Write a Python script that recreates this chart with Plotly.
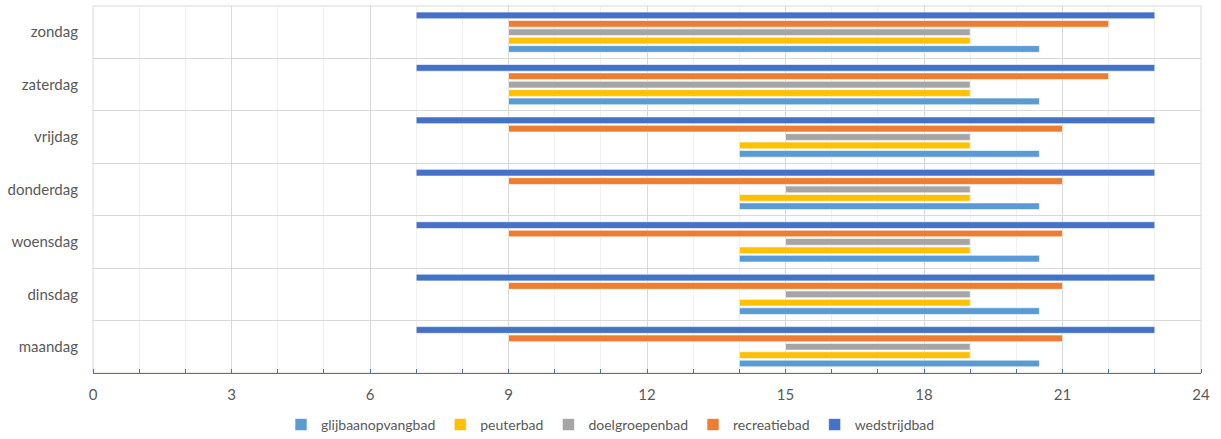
import plotly.graph_objects as go

# Openingstijden per bad, per dag (uren van de dag)
dagen = ["maandag", "dinsdag", "woensdag", "donderdag", "vrijdag", "zaterdag", "zondag"]

glijbaan_start = [14, 14, 14, 14, 14, 9, 9]
glijbaan_eind = [20.5, 20.5, 20.5, 20.5, 20.5, 20.5, 20.5]

peuter_start = [14, 14, 14, 14, 14, 9, 9]
peuter_eind = [19, 19, 19, 19, 19, 19, 19]

doelgroep_start = [15, 15, 15, 15, 15, 9, 9]
doelgroep_eind = [19, 19, 19, 19, 19, 19, 19]

recreatie_start = [9, 9, 9, 9, 9, 9, 9]
recreatie_eind = [21, 21, 21, 21, 21, 22, 22]

wedstrijd_start = [7, 7, 7, 7, 7, 7, 7]
wedstrijd_eind = [23, 23, 23, 23, 23, 23, 23]

x_ticks = [0, 3, 6, 9, 12, 15, 18, 21, 24]

series = [
    ("glijbaanopvangbad", glijbaan_start, glijbaan_eind, "#5B9BD5"),
    ("peuterbad", peuter_start, peuter_eind, "#FFC000"),
    ("doelgroepenbad", doelgroep_start, doelgroep_eind, "#A5A5A5"),
    ("recreatiebad", recreatie_start, recreatie_eind, "#ED7D31"),
    ("wedstrijdbad", wedstrijd_start, wedstrijd_eind, "#4472C4"),
]

fig = go.Figure()
for naam, start, eind, kleur in series:
    fig.add_trace(go.Bar(
        y=dagen,
        x=[e - s for s, e in zip(start, eind)],
        base=start,
        orientation="h",
        name=naam,
        marker=dict(color=kleur, line=dict(color="rgba(255,255,255,0.6)", width=1)),
    ))

font = dict(family="Lato, Open Sans, sans-serif", size=15, color="#595959")

fig.update_layout(
    width=1221,
    height=439,
    margin=dict(l=93, r=20, t=6, b=65),
    paper_bgcolor="white",
    plot_bgcolor="white",
    barmode="group",
    bargap=0.2,
    bargroupgap=0.2,
    font=font,
    showlegend=True,
    legend=dict(
        orientation="h",
        x=0.5, xanchor="center", xref="container",
        y=0.032, yanchor="middle", yref="container",
        font=dict(family="Lato, Open Sans, sans-serif", size=14, color="#595959"),
        itemwidth=30,
        tracegroupgap=0,
        traceorder="normal",
    ),
    xaxis=dict(
        range=[0, 24],
        tickvals=x_ticks,
        ticks="",
        showgrid=True,
        gridcolor="#D9D9D9",
        gridwidth=1,
        showline=True,
        linecolor="#4472C4",
        linewidth=1,
        zeroline=False,
        tickfont=font,
        ticklabelstandoff=8,
        minor=dict(
            dtick=1,
            tick0=0,
            showgrid=True,
            gridcolor="#F0F0F0",
            gridwidth=1,
            ticks="inside",
            ticklen=4,
            tickcolor="#4472C4",
        ),
    ),
    yaxis=dict(
        categoryorder="array",
        categoryarray=dagen,
        tickson="boundaries",
        ticks="",
        showgrid=True,
        gridcolor="#D9D9D9",
        gridwidth=1,
        showline=False,
        tickfont=font,
        ticklabelstandoff=14,
    ),
    shapes=[
        dict(
            type="rect", xref="paper", yref="paper",
            x0=0, x1=1, y0=0, y1=1,
            line=dict(color="#D9D9D9", width=1),
            layer="below",
        )
    ],
)

fig.write_html("out.html")
